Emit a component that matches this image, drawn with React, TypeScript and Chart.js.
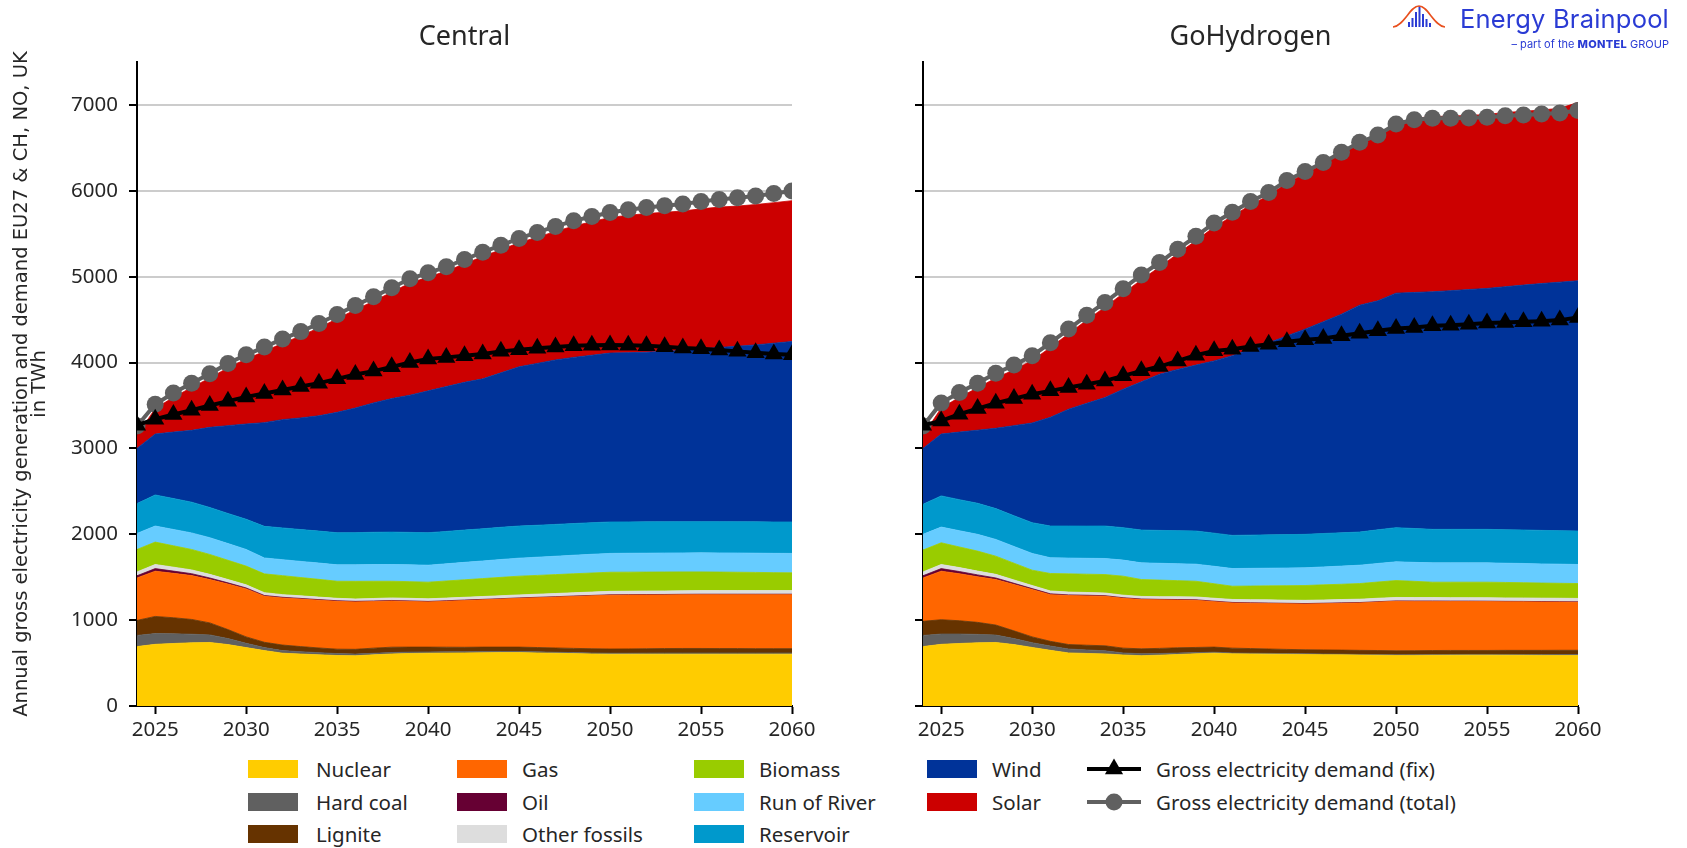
import React, { useEffect, useRef } from 'react';
import { Chart, registerables } from 'chart.js';

Chart.register(...registerables);

// ---------- categories / ticks ----------
const YEARS = [2024, 2025, 2026, 2027, 2028, 2029, 2030, 2031, 2032, 2033, 2034, 2035, 2036, 2037, 2038, 2039, 2040, 2041, 2042, 2043, 2044, 2045, 2046, 2047, 2048, 2049, 2050, 2051, 2052, 2053, 2054, 2055, 2056, 2057, 2058, 2059, 2060];
const X_TICKS = [2025, 2030, 2035, 2040, 2045, 2050, 2055, 2060];
const Y_TICKS = [0, 1000, 2000, 3000, 4000, 5000, 6000, 7000];

const SERIES_NAMES = ['Nuclear', 'Hard coal', 'Lignite', 'Gas', 'Oil', 'Other fossils', 'Biomass', 'Run of River', 'Reservoir', 'Wind', 'Solar'];
const SERIES_COLORS = ['#FFCC00', '#606060', '#663300', '#FF6600', '#660033', '#DDDDDD', '#99CC00', '#66CCFF', '#0099CC', '#003399', '#CC0000'];
const DEMAND_FIX_NAME = 'Gross electricity demand (fix)';
const DEMAND_TOTAL_NAME = 'Gross electricity demand (total)';
const DEMAND_FIX_COLOR = '#000000';
const DEMAND_TOTAL_COLOR = '#606060';

// ---------- Central scenario (TWh) ----------
const C_NUCLEAR = [692, 718, 728, 736, 740, 715, 680, 645, 615, 605, 596, 588, 585, 596, 606, 612, 615, 616, 618, 620, 622, 622, 618, 614, 610, 606, 603, 603, 604, 604, 604, 604, 604, 604, 604, 604, 604];
const C_HARDCOAL = [130, 125, 112, 100, 88, 70, 50, 35, 30, 27, 25, 22, 20, 18, 17, 16, 15, 15, 14, 14, 13, 13, 13, 12, 12, 12, 12, 12, 12, 13, 13, 13, 13, 13, 13, 13, 13];
const C_LIGNITE = [175, 200, 188, 172, 140, 105, 75, 62, 65, 60, 55, 52, 55, 60, 62, 58, 56, 54, 52, 52, 51, 51, 50, 50, 49, 49, 49, 50, 51, 52, 53, 53, 52, 52, 51, 51, 51];
const C_GAS = [495, 527, 517, 511, 505, 530, 559, 536, 548, 553, 556, 557, 552, 543, 538, 532, 526, 535, 544, 550, 559, 568, 580, 592, 605, 616, 626, 627, 626, 625, 626, 627, 628, 628, 629, 629, 629];
const C_OIL = [25, 30, 26, 22, 18, 14, 11, 9, 8, 8, 7, 7, 7, 6, 6, 6, 6, 6, 6, 6, 5, 5, 5, 5, 5, 5, 5, 5, 5, 5, 5, 5, 5, 5, 5, 5, 5];
const C_OTHER = [45, 48, 46, 44, 42, 39, 36, 33, 31, 30, 29, 28, 28, 29, 30, 30, 30, 31, 32, 33, 34, 35, 36, 37, 38, 39, 40, 40, 41, 41, 41, 42, 42, 42, 42, 42, 42];
const C_BIOMASS = [261, 261, 249, 238, 232, 224, 218, 219, 221, 213, 207, 199, 205, 201, 194, 194, 194, 199, 204, 209, 214, 218, 219, 220, 221, 222, 223, 222, 221, 221, 220, 218, 216, 214, 212, 209, 207];
const C_ROR = [187, 187, 190, 193, 195, 195, 194, 185, 186, 188, 190, 191, 192, 194, 195, 196, 198, 200, 203, 205, 208, 210, 212, 214, 216, 218, 219, 220, 220, 221, 221, 222, 223, 224, 224, 225, 226];
const C_RESERVOIR = [347, 362, 360, 358, 352, 350, 352, 368, 370, 371, 372, 374, 375, 376, 377, 378, 378, 377, 376, 375, 375, 374, 372, 371, 369, 368, 366, 365, 365, 364, 364, 363, 364, 364, 365, 365, 366];
const C_WIND = [643, 709, 774, 836, 933, 1023, 1109, 1208, 1261, 1300, 1343, 1402, 1451, 1507, 1555, 1598, 1652, 1687, 1721, 1746, 1799, 1854, 1885, 1915, 1935, 1950, 1967, 1971, 1975, 1984, 1993, 2013, 2028, 2044, 2060, 2082, 2102];
const C_SOLAR = [150, 298, 405, 500, 575, 675, 756, 830, 890, 955, 1025, 1090, 1145, 1185, 1240, 1305, 1325, 1345, 1380, 1425, 1435, 1445, 1470, 1497, 1530, 1555, 1580, 1600, 1615, 1620, 1625, 1630, 1635, 1632, 1635, 1637, 1640];
const C_DEMAND_FIX = [3270, 3340, 3395, 3445, 3500, 3550, 3600, 3640, 3680, 3720, 3760, 3810, 3860, 3900, 3950, 4000, 4040, 4060, 4080, 4100, 4130, 4150, 4165, 4180, 4195, 4200, 4205, 4200, 4195, 4185, 4170, 4160, 4145, 4130, 4115, 4100, 4090];
const C_DEMAND_TOTAL = [3260, 3515, 3645, 3760, 3870, 3990, 4090, 4180, 4275, 4360, 4455, 4560, 4665, 4765, 4870, 4975, 5045, 5115, 5200, 5285, 5365, 5445, 5515, 5585, 5650, 5700, 5748, 5780, 5805, 5825, 5845, 5875, 5900, 5918, 5940, 5968, 5998];

// ---------- GoHydrogen scenario (TWh) ----------
const H_NUCLEAR = [692, 718, 728, 736, 740, 715, 682, 648, 618, 612, 607, 594, 586, 592, 600, 608, 615, 608, 606, 604, 602, 600, 598, 596, 593, 591, 588, 589, 590, 591, 592, 592, 591, 590, 589, 588, 588];
const H_HARDCOAL = [130, 120, 110, 98, 86, 70, 55, 50, 46, 41, 36, 24, 22, 19, 17, 14, 12, 10, 9, 9, 8, 8, 8, 8, 8, 8, 8, 8, 9, 9, 9, 9, 10, 10, 10, 11, 11];
const H_LIGNITE = [164, 167, 155, 140, 117, 90, 68, 55, 52, 55, 58, 56, 58, 60, 61, 60, 59, 56, 54, 51, 49, 47, 47, 47, 47, 47, 47, 47, 47, 47, 46, 46, 47, 48, 49, 50, 50];
const H_GAS = [506, 565, 547, 531, 530, 540, 551, 544, 570, 574, 577, 580, 573, 565, 556, 549, 529, 526, 528, 530, 532, 533, 539, 545, 552, 564, 576, 574, 572, 570, 570, 569, 566, 565, 563, 561, 559];
const H_OIL = [25, 30, 26, 22, 18, 14, 11, 9, 8, 8, 7, 7, 7, 6, 6, 6, 6, 6, 5, 5, 5, 5, 5, 5, 5, 5, 5, 5, 5, 5, 5, 5, 5, 5, 5, 5, 5];
const H_OTHER = [45, 48, 46, 44, 42, 39, 36, 34, 33, 32, 31, 30, 30, 31, 32, 33, 34, 35, 36, 37, 37, 38, 38, 39, 39, 40, 40, 40, 40, 40, 40, 40, 40, 40, 40, 40, 40];
const H_BIOMASS = [254, 253, 240, 233, 212, 195, 179, 203, 212, 213, 215, 221, 197, 193, 188, 183, 169, 154, 159, 163, 168, 172, 176, 178, 182, 189, 197, 189, 179, 180, 180, 181, 180, 178, 176, 174, 173];
const H_ROR = [183, 183, 189, 195, 195, 195, 195, 183, 184, 185, 187, 187, 194, 196, 197, 199, 203, 206, 206, 206, 206, 206, 209, 211, 214, 216, 218, 221, 225, 225, 225, 225, 224, 224, 223, 223, 222];
const H_RESERVOIR = [350, 363, 362, 362, 359, 358, 358, 370, 373, 375, 378, 378, 382, 383, 385, 386, 386, 386, 387, 388, 389, 390, 389, 388, 386, 392, 398, 394, 390, 390, 390, 390, 390, 390, 390, 390, 390];
const H_WIND = [651, 720, 787, 851, 935, 1049, 1161, 1266, 1360, 1430, 1496, 1612, 1726, 1819, 1878, 1932, 2006, 2093, 2165, 2237, 2314, 2390, 2466, 2546, 2642, 2667, 2731, 2749, 2767, 2780, 2793, 2806, 2830, 2852, 2875, 2894, 2914];
const H_SOLAR = [150, 303, 405, 493, 586, 650, 729, 813, 879, 970, 1053, 1116, 1190, 1248, 1348, 1450, 1559, 1625, 1680, 1715, 1780, 1811, 1837, 1872, 1892, 1931, 1982, 2029, 2041, 2033, 2028, 2027, 2029, 2023, 2022, 2024, 2078];
const H_DEMAND_FIX = [3270, 3320, 3398, 3464, 3526, 3580, 3631, 3670, 3709, 3747, 3786, 3845, 3903, 3953, 4019, 4085, 4136, 4155, 4187, 4214, 4241, 4264, 4280, 4311, 4342, 4369, 4396, 4408, 4427, 4435, 4447, 4459, 4466, 4474, 4482, 4494, 4525];
const H_DEMAND_TOTAL = [3260, 3530, 3650, 3760, 3875, 3970, 4080, 4230, 4390, 4550, 4700, 4860, 5020, 5165, 5320, 5470, 5625, 5750, 5875, 5980, 6120, 6225, 6330, 6450, 6565, 6650, 6778, 6828, 6845, 6845, 6848, 6856, 6875, 6883, 6895, 6907, 6935];

const CENTRAL_SERIES = [C_NUCLEAR, C_HARDCOAL, C_LIGNITE, C_GAS, C_OIL, C_OTHER, C_BIOMASS, C_ROR, C_RESERVOIR, C_WIND, C_SOLAR];
const HYDROGEN_SERIES = [H_NUCLEAR, H_HARDCOAL, H_LIGNITE, H_GAS, H_OIL, H_OTHER, H_BIOMASS, H_ROR, H_RESERVOIR, H_WIND, H_SOLAR];

const Y_TITLE = ['Annual gross electricity generation and demand EU27 & CH, NO, UK', 'in TWh'];

const TEXT_COLOR = '#262626';
const TICK_FONT = { family: '"Noto Sans"', size: 20.5 };

const toPoints = (vals: number[]) => YEARS.map((x, i) => ({ x, y: vals[i] }));

const panelTitlePlugin = {
  id: 'panelTitle',
  afterDraw(chart: any, _args: any, opts: any) {
    if (!opts || !opts.text) return;
    const { ctx, chartArea } = chart;
    ctx.save();
    ctx.font = '27px "Noto Sans"';
    ctx.fillStyle = TEXT_COLOR;
    ctx.textAlign = 'center';
    ctx.textBaseline = 'middle';
    ctx.fillText(opts.text, (chartArea.left + chartArea.right) / 2, opts.y);
    ctx.restore();
  },
};

type PanelProps = {
  title: string;
  series: number[][];
  fix: number[];
  total: number[];
  showLabels: boolean;
  left: number;
  width: number;
  yWidth: number;
};

function Panel({ title, series, fix, total, showLabels, left, width, yWidth }: PanelProps) {
  const ref = useRef<HTMLCanvasElement | null>(null);
  useEffect(() => {
    if (!ref.current) return;
    const areaSets = series.map((vals, i) => ({
      label: SERIES_NAMES[i],
      data: toPoints(vals),
      backgroundColor: SERIES_COLORS[i],
      borderColor: SERIES_COLORS[i],
      borderWidth: 0.8,
      pointRadius: 0,
      pointHitRadius: 0,
      fill: i === 0 ? 'origin' : '-1',
      tension: 0,
      yAxisID: 'y',
      order: 10,
    }));
    const datasets: any[] = [
      ...areaSets,
      {
        label: DEMAND_TOTAL_NAME,
        data: toPoints(total),
        yAxisID: 'yd',
        borderColor: DEMAND_TOTAL_COLOR,
        backgroundColor: DEMAND_TOTAL_COLOR,
        borderWidth: 4,
        pointStyle: 'circle',
        pointRadius: 8.5,
        pointBorderWidth: 0,
        pointBackgroundColor: DEMAND_TOTAL_COLOR,
        fill: false,
        tension: 0,
        order: 1,
      },
      {
        label: DEMAND_FIX_NAME,
        data: toPoints(fix),
        yAxisID: 'yd',
        borderColor: DEMAND_FIX_COLOR,
        backgroundColor: DEMAND_FIX_COLOR,
        borderWidth: 4,
        pointStyle: 'triangle',
        pointRadius: 10.5,
        pointBorderWidth: 0,
        pointBackgroundColor: DEMAND_FIX_COLOR,
        fill: false,
        tension: 0,
        order: 0,
      },
    ];
    const chart = new Chart(ref.current, {
      type: 'line',
      data: { datasets },
      plugins: [panelTitlePlugin as any],
      options: {
        animation: false,
        responsive: false,
        events: [],
        layout: { padding: { left: 0, right: 30, top: 62, bottom: 0 } },
        plugins: {
          legend: { display: false },
          tooltip: { enabled: false },
          panelTitle: { text: title, y: 37 },
        } as any,
        scales: {
          x: {
            type: 'linear',
            min: 2024,
            max: 2060,
            afterBuildTicks: (s: any) => {
              s.ticks = X_TICKS.map((v) => ({ value: v }));
            },
            afterFit: (s: any) => {
              s.height = 40;
            },
            grid: { drawOnChartArea: false, drawTicks: true, tickLength: 8, tickWidth: 2, tickColor: '#000' },
            border: { display: true, color: '#000', width: 2 },
            ticks: {
              font: TICK_FONT,
              color: TEXT_COLOR,
              padding: 4,
              maxRotation: 0,
              autoSkip: false,
              callback: (v: any) => String(v),
            },
          },
          y: {
            type: 'linear',
            stacked: true,
            min: 0,
            max: 7500,
            afterBuildTicks: (s: any) => {
              s.ticks = Y_TICKS.map((v) => ({ value: v }));
            },
            afterFit: (s: any) => {
              s.width = yWidth;
            },
            grid: { color: '#cccccc', lineWidth: 2, tickColor: '#000', tickLength: 8, tickWidth: 2 },
            border: { display: true, color: '#000', width: 2 },
            ticks: {
              font: TICK_FONT,
              color: TEXT_COLOR,
              padding: 11,
              callback: (v: any) => (showLabels ? String(v) : ''),
            },
            title: showLabels
              ? {
                  display: true,
                  text: Y_TITLE,
                  color: TEXT_COLOR,
                  font: { family: '"DejaVu Sans"', size: 19.5, lineHeight: 0.95 },
                  padding: { top: 12.5, bottom: 0 },
                }
              : { display: false },
          },
          yd: {
            type: 'linear',
            display: false,
            stacked: false,
            min: 0,
            max: 7500,
          },
        },
      } as any,
    });
    return () => chart.destroy();
  }, [title, series, fix, total, showLabels, yWidth]);
  return (
    <canvas
      ref={ref}
      width={width}
      height={746}
      style={{ position: 'absolute', left, top: 0, width, height: 746 }}
    />
  );
}

const LEGEND_ROWS = [769, 802, 834];
const LEGEND_COLS = [
  { swatch: 248, text: 316 },
  { swatch: 457, text: 522 },
  { swatch: 694, text: 759 },
  { swatch: 927, text: 992 },
];

function Legend() {
  const items: React.ReactNode[] = [];
  SERIES_NAMES.forEach((name, i) => {
    const col = LEGEND_COLS[Math.floor(i / 3)];
    const y = LEGEND_ROWS[i % 3];
    items.push(
      <div key={'s' + i} style={{ position: 'absolute', left: col.swatch, top: y - 9, width: 50, height: 18, background: SERIES_COLORS[i] }} />
    );
    items.push(
      <div key={'t' + i} style={{ position: 'absolute', left: col.text, top: y - 14, height: 28, lineHeight: '28px', fontFamily: '"Noto Sans"', fontSize: 20.5, color: TEXT_COLOR, whiteSpace: 'nowrap' }}>
        {name}
      </div>
    );
  });
  const lineItems = [
    { name: DEMAND_FIX_NAME, color: DEMAND_FIX_COLOR, tri: true },
    { name: DEMAND_TOTAL_NAME, color: DEMAND_TOTAL_COLOR, tri: false },
  ];
  lineItems.forEach((it, j) => {
    const y = LEGEND_ROWS[j];
    items.push(
      <svg key={'m' + j} width={54} height={26} style={{ position: 'absolute', left: 1087, top: y - 13 }}>
        <line x1={0} y1={13} x2={54} y2={13} stroke={it.color} strokeWidth={4} />
        {it.tri ? (
          <polygon points="27,2.5 36.1,18.25 17.9,18.25" fill={it.color} />
        ) : (
          <circle cx={27} cy={13} r={8.5} fill={it.color} />
        )}
      </svg>
    );
    items.push(
      <div key={'lt' + j} style={{ position: 'absolute', left: 1156, top: y - 14, height: 28, lineHeight: '28px', fontFamily: '"Noto Sans"', fontSize: 20.5, color: TEXT_COLOR, whiteSpace: 'nowrap' }}>
        {it.name}
      </div>
    );
  });
  return <>{items}</>;
}

function Logo() {
  const bars = [
    { x: 16, h: 5 },
    { x: 19.5, h: 9 },
    { x: 23, h: 15 },
    { x: 26.5, h: 21 },
    { x: 30, h: 13 },
    { x: 33.5, h: 8 },
    { x: 37, h: 4 },
  ];
  return (
    <>
      <svg width={54} height={26} style={{ position: 'absolute', left: 1392, top: 3 }}>
        {bars.map((b, i) => (
          <rect key={i} x={b.x} y={24 - b.h} width={2} height={b.h} fill="#2a3bd4" />
        ))}
        <path d="M1 24 C 12 23, 18 3, 27 3 S 42 23, 53 24" stroke="#e8501e" strokeWidth={1.6} fill="none" />
      </svg>
      <div style={{ position: 'absolute', left: 1460, top: 4, height: 30, lineHeight: '30px', fontFamily: 'Inter', fontSize: 25.5, color: '#2a3bd4', whiteSpace: 'nowrap', letterSpacing: 0.2 }}>
        Energy Brainpool
      </div>
      <div style={{ position: 'absolute', right: 18, top: 37, height: 14, lineHeight: '14px', fontFamily: 'Inter', fontSize: 11, color: '#2a3bd4', whiteSpace: 'nowrap' }}>
        – part of the <span style={{ fontWeight: 800, letterSpacing: 0.3 }}>MONTEL</span> GROUP
      </div>
    </>
  );
}

export default function App() {
  return (
    <div style={{ position: 'absolute', left: 0, top: 0, width: 1687, height: 848, overflow: 'hidden', background: '#fff' }}>
      <Panel title="Central" series={CENTRAL_SERIES} fix={C_DEMAND_FIX} total={C_DEMAND_TOTAL} showLabels={true} left={0} width={822} yWidth={137} />
      <Panel title="GoHydrogen" series={HYDROGEN_SERIES} fix={H_DEMAND_FIX} total={H_DEMAND_TOTAL} showLabels={false} left={830} width={778} yWidth={93} />
      <Legend />
      <Logo />
    </div>
  );
}
